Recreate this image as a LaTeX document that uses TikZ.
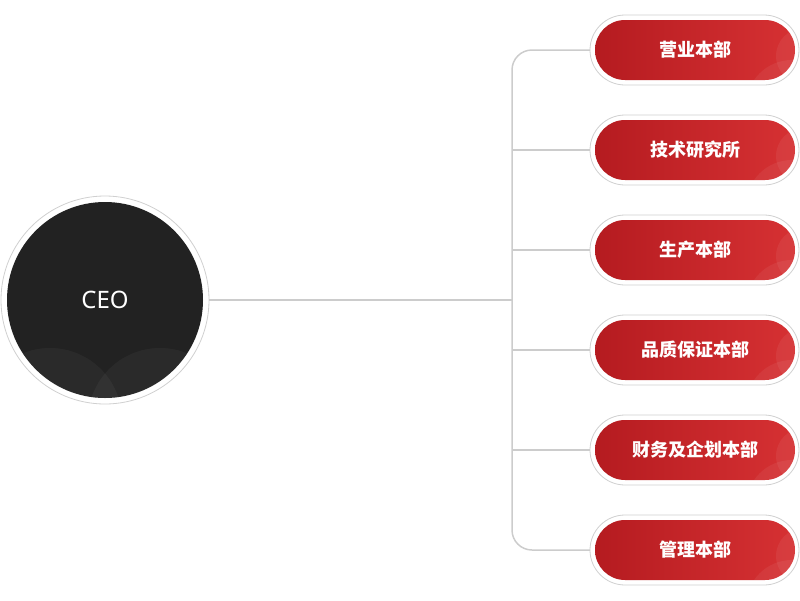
\documentclass[tikz,border=0pt]{standalone}
\usepackage{fontspec}
\setmainfont{Noto Sans}
\newfontfamily\cjkfont{Noto Sans CJK SC}
\usetikzlibrary{positioning}
\definecolor{ceodark}{HTML}{222222}
\definecolor{ringgray}{HTML}{D0D0D0}
\definecolor{linegray}{HTML}{CCCCCC}
\definecolor{redleft}{HTML}{B51B20}
\definecolor{redright}{HTML}{D63133}
\tikzset{
  dept/.style={rounded corners=30pt, minimum width=200pt, minimum height=60pt,
    left color=redleft, right color=redright, draw=none},
  deptlabel/.style={text=white, font=\cjkfont\bfseries\fontsize{18}{21}\selectfont},
  deptring/.style={draw=ringgray, line width=0.8pt, fill=white, rounded corners=35pt},
  branch/.style={draw=linegray, line width=1.5pt},
}
\begin{document}
\begin{tikzpicture}[x=1pt, y=-1pt]
    \useasboundingbox (0, 0) rectangle (800, 600);

    % CEO circle
    \fill [white, draw=ringgray, line width=0.8pt] (105, 300) circle [radius=104];
    \node [circle, fill=ceodark, minimum size=196pt, inner sep=0pt] (ceo) at (105, 300) {};
    \begin{scope}
      \clip (105, 300) circle [radius=98];
      \fill [white, opacity=0.04] (50, 420) circle [radius=72];
      \fill [white, opacity=0.04] (160, 420) circle [radius=72];
    \end{scope}
    \node [text=white, font=\fontsize{24}{28}\selectfont] at (ceo) {CEO};
    \coordinate (ceoedge) at (209, 300);

    % trunk
    \coordinate (trunk) at (512, 300);
    \draw [branch] (ceoedge) -- (trunk);

    % departments
    \foreach \name/\label [count=\i] in {sales/营业本部, rnd/技术研究所, prod/生产本部,
        qa/品质保证本部, fin/财务及企划本部, admin/管理本部} {
      \pgfmathsetmacro{\yy}{50 + (\i - 1)*100}
      \draw [deptring] (590, \yy - 35) rectangle (799, \yy + 35);
      \node [dept] (\name) at (695, \yy) {};
      \begin{scope}
        \clip [rounded corners=30pt] (595, \yy - 30) rectangle (795, \yy + 30);
        \fill [white, opacity=0.06] (804, \yy + 6) circle [radius=28];
        \fill [white, opacity=0.06] (792, \yy + 56) circle [radius=46];
      \end{scope}
      \node [deptlabel] at (\name) {\label};
      \coordinate (in\i) at (590, \yy);
    }

    % connectors
    \draw [branch, rounded corners=20pt] (in1) -| (trunk) |- (in6);
    \foreach \i in {2, ..., 5} {
      \draw [branch] (in\i) -- (in\i -| trunk);
    }
  \end{tikzpicture}
\end{document}
